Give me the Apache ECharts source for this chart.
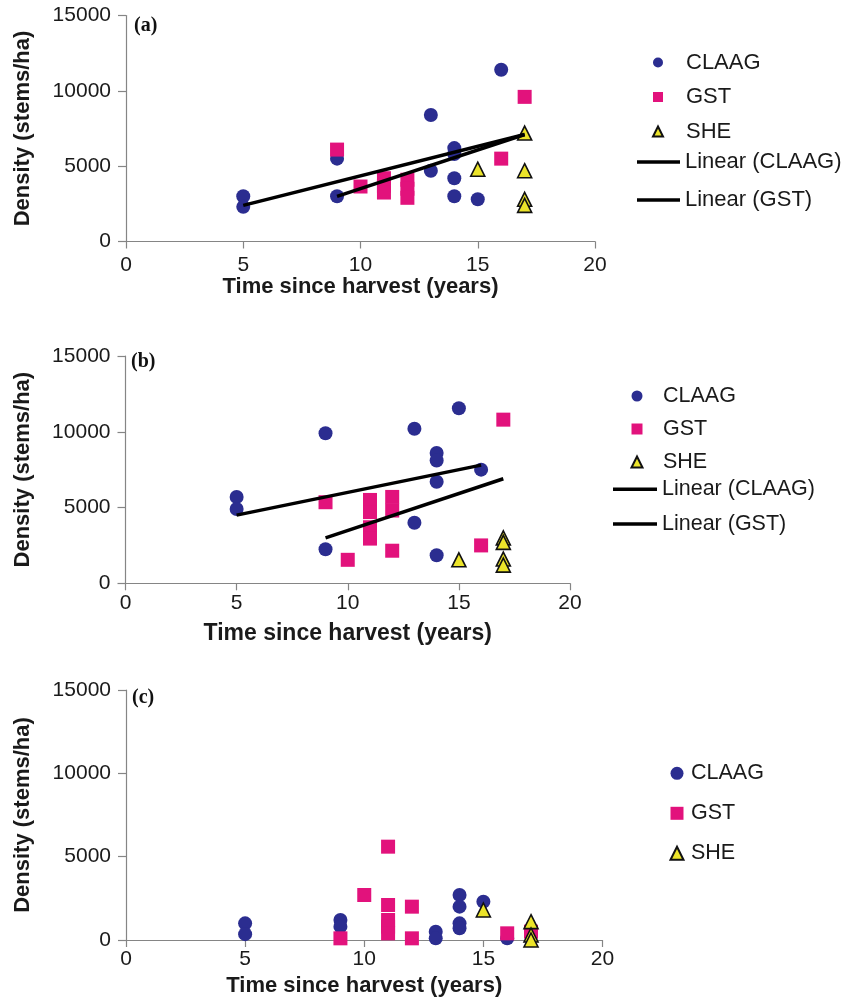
<!DOCTYPE html>
<html>
<head>
<meta charset="utf-8">
<script src="https://cdn.jsdelivr.net/npm/echarts@6/dist/echarts.min.js"></script>
<style>
html,body{margin:0;padding:0;background:#fff;}
#chart{width:845px;height:1000px;}
</style>
</head>
<body>
<div id="chart"></div>
<script>
// ---- data ----
const panelLabels = ['(a)', '(b)', '(c)'];
const xTicks = [0, 5, 10, 15, 20];
const yTicks = [0, 5000, 10000, 15000];
const xTitle = 'Time since harvest (years)';
const yTitle = 'Density (stems/ha)';
const seriesNames = ['CLAAG', 'GST', 'SHE'];
const trendNames = ['Linear (CLAAG)', 'Linear (GST)'];

// Panel (a)
const claagA = [[5,3000],[5,2300],[9,5500],[9,3000],[13,8400],[13,4700],[14,6200],[14,5800],[14,4200],[14,3000],[15,2800],[16,11400]];
const gstA = [[9,6100],[10,3650],[11,4200],[11,3700],[11,3250],[12,4100],[12,3500],[12,2900],[16,5500],[17,9600]];
const sheA = [[15,4800],[17,7200],[17,4700],[17,2800],[17,2400]];
const trendClaagA = [[5,2400],[17,7100]];
const trendGstA = [[9,3000],[17,7100]];

// Panel (b)
const claagB = [[5,5700],[5,4900],[9,9900],[9,2250],[13,10200],[13,4000],[14,8600],[14,8100],[14,6700],[14,1850],[15,11550],[16,7500]];
const gstB = [[9,5350],[10,1550],[11,5500],[11,4700],[11,3700],[11,2950],[12,5700],[12,4800],[12,2150],[16,2500],[17,10800]];
const sheB = [[15,1550],[17,3000],[17,2700],[17,1600],[17,1200]];
const trendClaagB = [[5,4500],[16,7800]];
const trendGstB = [[9,3000],[17,6900]];

// Panel (c)
const claagC = [[5,1000],[5,350],[9,1200],[9,800],[13,500],[13,100],[14,2700],[14,2000],[14,1000],[14,700],[15,2300],[16,100]];
const gstC = [[9,100],[10,2700],[11,5600],[11,2100],[11,1200],[11,800],[11,400],[12,2000],[12,100],[16,400],[17,500]];
const sheC = [[15,1800],[17,1100],[17,300],[17,0]];

// ---- style / layout ----
const FONT = '"Liberation Sans", Arial, Helvetica, sans-serif';
const AXIS_COLOR = '#858585';
const TEXT_COLOR = '#1a1a1a';
const C_BLUE = '#2b2d90';
const C_PINK = '#e2127c';
const C_YELLOW = '#ece42a';

const grids = [
  {left:126, top:15.5, width:469, height:226},
  {left:125.5, top:356, width:444.5, height:227.3},
  {left:126, top:690, width:476.5, height:250}
];
const labelMargins = [13, 9, 9];
const nameGaps = [34.5, 38.5, 35];
const xNameSizes = [22, 23, 22];

function xAxis(i){
  return {
    gridIndex:i, type:'value', min:xTicks[0], max:xTicks[xTicks.length-1], interval:xTicks[1]-xTicks[0],
    axisLine:{show:true, onZero:false, lineStyle:{color:AXIS_COLOR, width:1.2}},
    axisTick:{show:true, inside:false, length:7, lineStyle:{color:AXIS_COLOR, width:1.2}},
    splitLine:{show:false},
    axisLabel:{margin:labelMargins[i], fontSize:21, fontFamily:FONT, color:TEXT_COLOR, formatter:v=>String(v)},
    name:xTitle, nameLocation:'middle', nameGap:nameGaps[i],
    nameTextStyle:{fontSize:xNameSizes[i], fontWeight:'bold', fontFamily:FONT, color:TEXT_COLOR}
  };
}
function yAxis(i){
  return {
    gridIndex:i, type:'value', min:yTicks[0], max:yTicks[yTicks.length-1], interval:yTicks[1]-yTicks[0],
    axisLine:{show:true, lineStyle:{color:AXIS_COLOR, width:1.2}},
    axisTick:{show:true, inside:false, length:8, lineStyle:{color:AXIS_COLOR, width:1.2}},
    splitLine:{show:false},
    axisLabel:{margin:15, fontSize:21, fontFamily:FONT, color:TEXT_COLOR, formatter:v=>String(v)},
    name:yTitle, nameLocation:'middle', nameGap:92,
    nameTextStyle:{fontSize:22, fontWeight:'bold', fontFamily:FONT, color:TEXT_COLOR}
  };
}

function scatter(name, data, i){
  const st = {
    CLAAG:{symbol:'circle', size:14, itemStyle:{color:C_BLUE, opacity:1}},
    GST:{symbol:'rect', size:14, itemStyle:{color:C_PINK, opacity:1}},
    SHE:{symbol:'triangle', size:14, itemStyle:{color:C_YELLOW, borderColor:'#111', borderWidth:1.6, opacity:1}}
  }[name];
  return {
    type:'scatter', name:name, xAxisIndex:i, yAxisIndex:i, data:data,
    symbol:st.symbol, symbolSize:st.size, itemStyle:st.itemStyle,
    clip:false, silent:true, emphasis:{disabled:true}
  };
}
function trend(name, data, i){
  return {
    type:'line', name:name, xAxisIndex:i, yAxisIndex:i, data:data,
    symbol:'none', lineStyle:{color:'#000', width:3.5}, itemStyle:{color:'#000'},
    silent:true, z:3
  };
}

function scatterLegend(left, top, size, gap, textGap, fontSize){
  return {
    data:seriesNames, orient:'vertical', left:left, top:top, itemWidth:size, itemHeight:size, itemGap:gap,
    padding:0, selectedMode:false,
    formatter: n => '{g| }' + n,
    textStyle:{fontSize:fontSize, fontFamily:FONT, color:TEXT_COLOR, lineHeight:22,
      rich:{g:{width:textGap, fontSize:fontSize, lineHeight:22}}}
  };
}
function lineLegend(left, top, width, gap, fontSize){
  return {
    data:trendNames.map(n=>({name:n, icon:'rect'})), orient:'vertical', left:left, top:top,
    itemWidth:width, itemHeight:3.5, itemGap:gap, padding:0, selectedMode:false,
    itemStyle:{color:'#000'},
    textStyle:{fontSize:fontSize, fontFamily:FONT, color:TEXT_COLOR, lineHeight:22}
  };
}
const legends = [
  scatterLegend(652, 51.5, 10, 12.5, 18, 22),
  lineLegend(637, 151, 43, 16, 22),
  scatterLegend(630.5, 385, 11, 11, 15.5, 21.5),
  lineLegend(613, 478.3, 44, 12.7, 21.5),
  scatterLegend(669.5, 762.3, 13, 18, 2.5, 21.5)
];

const titlePos = [{left:134, top:16}, {left:131, top:352}, {left:132, top:688}];

const option = {
  animation:false,
  backgroundColor:'#fff',
  title: panelLabels.map((t,i)=>({
    text:t, left:titlePos[i].left, top:titlePos[i].top, padding:0,
    textStyle:{fontFamily:'"Liberation Serif", "Times New Roman", serif', fontWeight:'bold', fontSize:20, color:'#111'}
  })),
  grid: grids,
  xAxis: [0,1,2].map(xAxis),
  yAxis: [0,1,2].map(yAxis),
  legend: legends,
  series: [
    scatter('CLAAG', claagA, 0), scatter('GST', gstA, 0), scatter('SHE', sheA, 0),
    trend('Linear (CLAAG)', trendClaagA, 0), trend('Linear (GST)', trendGstA, 0),
    scatter('CLAAG', claagB, 1), scatter('GST', gstB, 1), scatter('SHE', sheB, 1),
    trend('Linear (CLAAG)', trendClaagB, 1), trend('Linear (GST)', trendGstB, 1),
    scatter('CLAAG', claagC, 2), scatter('GST', gstC, 2), scatter('SHE', sheC, 2)
  ]
};

const chart = echarts.init(document.getElementById('chart'), null, {renderer:'canvas'});
chart.setOption(option);
</script>
</body>
</html>
